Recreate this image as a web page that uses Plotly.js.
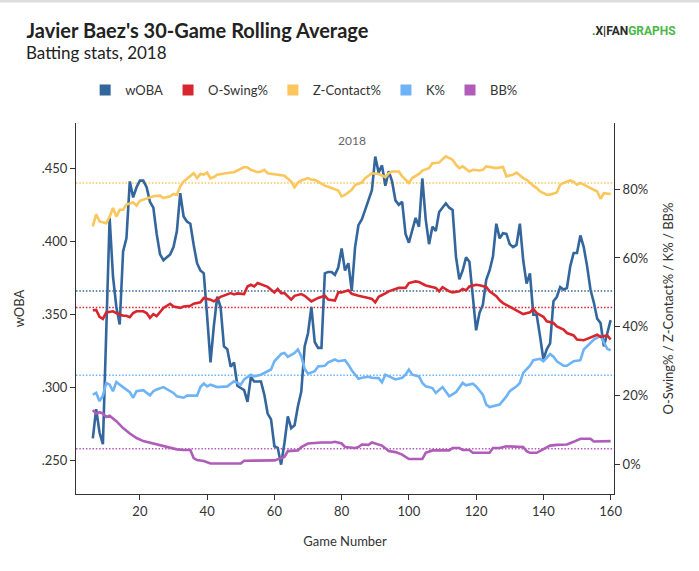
<!DOCTYPE html>
<html>
<head>
<meta charset="utf-8">
<script src="https://cdn.plot.ly/plotly-3.0.1.min.js"></script>
<style>
  html, body { margin: 0; padding: 0; background: #fff; }
  #chart { width: 699px; height: 571px; }
</style>
</head>
<body>
<div id="chart"></div>
<script>
// ---------- data ----------
const seriesNames = ["wOBA", "O-Swing%", "Z-Contact%", "K%", "BB%"];
const seriesColors = ["#33669c", "#d8262f", "#fbc65b", "#6fb3f7", "#b05cb9"];

const wobaGames = [6,7,8,9,11,12,13,14,15,16,17,18,19,20,21,22,23,24,25,26,27,28,29,30,31,32,33,34,35,36,37,38,39,40,41,42,43,44,45,46,47,48,49,50,51,52,53,54,55,56,57,58,59,60,61,62,63,64,65,66,67,68,69,70,71,72,73,74,75,76,77,78,79,80,81,82,83,84,85,86,87,88,89,90,91,92,93,94,95,96,97,98,99,100,101,102,103,104,105,106,107,108,109,110,111,112,113,114,115,116,117,118,119,120,121,122,123,124,125,126,127,128,129,130,131,132,133,134,135,136,137,138,139,140,141,142,143,144,145,146,147,148,149,150,151,152,153,154,155,156,157,158,159,160];
const wobaValues = [.265,.285,.269,.261,.416,.376,.355,.343,.393,.402,.441,.430,.437,.4415,.4415,.437,.427,.423,.405,.391,.387,.389,.391,.396,.407,.433,.417,.4135,.412,.3975,.385,.380,.378,.3485,.317,.342,.362,.355,.328,.326,.314,.317,.301,.2995,.298,.290,.307,.304,.304,.304,.295,.282,.278,.2596,.2585,.247,.262,.280,.272,.274,.287,.297,.328,.337,.355,.331,.327,.327,.378,.379,.379,.377,.382,.395,.380,.385,.366,.396,.411,.415,.4215,.428,.435,.458,.447,.452,.438,.448,.441,.428,.425,.427,.405,.399,.408,.416,.410,.443,.415,.398,.410,.407,.420,.423,.426,.423,.4215,.3895,.374,.380,.389,.386,.3645,.339,.351,.3565,.3736,.380,.3895,.412,.402,.4055,.405,.398,.396,.3975,.412,.387,.371,.378,.3497,.3497,.335,.319,.326,.330,.359,.362,.3686,.367,.368,.383,.392,.392,.404,.396,.383,.367,.358,.347,.344,.328,.337,.346];

const oswingGames = [6,7,8,9,10,12,13,15,16,17,18,19,21,22,23,24,25,26,27,29,30,32,33,35,36,38,39,41,42,44,45,47,48,49,51,52,53,54,55,57,58,60,61,62,63,65,66,68,69,71,72,73,75,76,78,79,80,82,83,85,88,89,90,91,93,94,96,97,99,100,102,103,105,106,108,109,110,112,113,115,116,117,118,120,121,123,124,126,127,128,130,131,133,134,136,137,138,140,141,143,144,146,147,149,150,152,153,155,156,157,159,160];
const oswingValues = [.448,.449,.429,.423,.442,.445,.440,.432,.432,.428,.440,.445,.445,.440,.426,.437,.431,.443,.455,.467,.459,.455,.459,.461,.467,.471,.484,.479,.474,.487,.490,.498,.494,.497,.495,.517,.522,.517,.527,.520,.516,.500,.510,.498,.498,.479,.490,.495,.490,.474,.479,.484,.490,.479,.476,.500,.500,.506,.496,.490,.484,.481,.471,.487,.497,.503,.510,.513,.513,.527,.532,.530,.520,.517,.513,.503,.515,.503,.500,.503,.510,.506,.517,.522,.521,.516,.503,.489,.477,.469,.459,.452,.442,.437,.442,.452,.440,.429,.416,.411,.401,.392,.382,.375,.363,.361,.365,.372,.377,.371,.375,.363];

const zcontactGames = [6,7,8,10,11,12,13,14,15,16,18,19,20,21,22,24,26,27,29,30,31,32,33,35,36,37,38,39,40,41,42,43,45,47,48,50,51,52,53,55,56,57,58,60,61,63,65,66,67,68,70,71,72,74,75,77,79,80,81,83,84,86,87,89,90,91,93,94,95,97,98,100,101,102,103,104,106,107,109,110,111,113,114,115,116,118,119,121,122,123,125,126,128,129,131,132,134,135,137,138,139,141,142,144,145,146,148,149,150,151,153,154,156,157,158,160];
const zcontactValues = [.692,.727,.706,.701,.720,.745,.720,.740,.740,.755,.761,.752,.766,.769,.772,.779,.781,.774,.779,.786,.783,.808,.822,.837,.846,.832,.844,.842,.848,.831,.835,.842,.846,.848,.849,.858,.864,.863,.856,.849,.851,.856,.846,.843,.841,.839,.822,.805,.819,.825,.832,.827,.827,.815,.810,.803,.796,.779,.783,.798,.812,.819,.832,.846,.846,.844,.835,.846,.851,.851,.837,.818,.832,.837,.844,.854,.861,.875,.877,.887,.895,.885,.871,.861,.866,.851,.856,.854,.856,.866,.864,.861,.864,.837,.842,.848,.832,.827,.810,.803,.793,.784,.784,.790,.813,.818,.825,.821,.813,.818,.808,.803,.793,.772,.788,.786];

const kGames = [6,7,8,9,10,11,12,13,14,16,17,18,19,21,22,23,24,25,27,28,30,31,33,34,36,37,38,39,40,41,43,45,46,48,49,50,51,53,54,56,58,59,60,62,63,64,66,67,68,69,70,72,73,75,76,78,79,81,82,83,85,86,88,89,91,92,93,95,96,98,99,100,101,103,104,105,107,108,109,110,112,113,114,116,117,119,120,122,123,124,126,127,129,130,132,133,134,136,137,139,140,142,143,144,146,147,149,151,152,154,155,157,158,159,160];
const kValues = [.203,.208,.184,.200,.237,.232,.213,.240,.232,.218,.210,.194,.213,.216,.208,.201,.213,.218,.225,.220,.208,.198,.194,.200,.200,.200,.225,.235,.227,.232,.225,.225,.227,.242,.237,.232,.247,.261,.256,.261,.271,.276,.300,.321,.324,.313,.324,.334,.314,.278,.264,.271,.285,.287,.297,.305,.300,.303,.290,.274,.249,.252,.255,.252,.251,.239,.261,.252,.247,.252,.261,.276,.261,.256,.237,.227,.222,.208,.218,.225,.198,.203,.210,.237,.230,.235,.227,.203,.174,.167,.171,.174,.198,.213,.227,.237,.266,.287,.303,.307,.300,.321,.313,.300,.287,.287,.300,.303,.334,.353,.363,.374,.353,.336,.332];

const bbGames = [6,7,8,9,10,11,13,15,17,19,21,24,27,29,31,33,35,36,37,39,41,44,50,51,56,60,63,64,67,68,70,74,77,78,80,81,84,85,86,88,89,91,92,94,96,98,99,100,104,105,107,112,113,115,116,118,119,124,125,127,129,134,135,136,138,140,142,144,147,149,151,154,155,160];
const bbValues = [.158,.148,.152,.148,.138,.142,.126,.106,.090,.077,.068,.061,.055,.050,.044,.042,.042,.019,.013,.010,.003,.003,.003,.011,.011,.012,.022,.039,.041,.051,.061,.064,.064,.066,.061,.051,.048,.051,.058,.057,.064,.057,.055,.039,.036,.029,.022,.016,.016,.034,.041,.041,.048,.048,.042,.042,.034,.034,.048,.048,.053,.051,.039,.034,.034,.044,.055,.057,.058,.066,.075,.075,.067,.068];

// season averages (dotted reference lines): wOBA, O-Swing%, Z-Contact%, K%, BB%
const seasonAverages = [0.366, 0.456, 0.8175, 0.259, 0.046];

const wobaTickVals = [0.25, 0.30, 0.35, 0.40, 0.45];
const wobaTickText = [".250", ".300", ".350", ".400", ".450"];
const pctTickVals = [0, 0.2, 0.4, 0.6, 0.8];
const gameTickVals = [20, 40, 60, 80, 100, 120, 140, 160];

// ---------- traces ----------
const xs = [wobaGames, oswingGames, zcontactGames, kGames, bbGames];
const ys = [wobaValues, oswingValues, zcontactValues, kValues, bbValues];
const axesY = ["y", "y2", "y2", "y2", "y2"];

const traces = [];
// draw order: put wOBA on top
const order = [4, 3, 2, 1, 0];
order.forEach(i => {
  traces.push({
    type: "scatter", mode: "lines",
    x: xs[i], y: ys[i], yaxis: axesY[i],
    line: { color: seriesColors[i], width: 2.6 },
    name: seriesNames[i], showlegend: false, hoverinfo: "skip"
  });
});
// legend entries (square swatches)
seriesNames.forEach((n, i) => {
  traces.push({
    type: "scatter", mode: "markers", x: [null], y: [null],
    marker: { symbol: "square", size: 11, color: seriesColors[i] },
    name: n, showlegend: true, hoverinfo: "skip"
  });
});

const shapes = seasonAverages.map((v, i) => ({
  type: "line", xref: "paper", x0: 0, x1: 1,
  yref: axesY[i], y0: v, y1: v,
  line: { color: seriesColors[i], width: 1.5, dash: "1.5px,1.8px" },
  layer: "below"
}));
// thin grey band at the very top of the image
shapes.push({
  type: "line", xref: "paper", yref: "paper",
  x0: -0.2, x1: 1.2, y0: 1.329, y1: 1.329,
  line: { color: "#dddddd", width: 3 }
});

const fontFam = "Lato, 'Open Sans', sans-serif";

const layout = {
  width: 699, height: 571,
  margin: { l: 76, r: 85, t: 123, b: 77, pad: 0 },
  paper_bgcolor: "#ffffff", plot_bgcolor: "#ffffff",
  font: { family: fontFam, size: 13, color: "#333" },
  showlegend: true,
  title: {
    text: "<b>Javier Baez's 30-Game Rolling Average</b>",
    font: { family: fontFam, size: 20, color: "#222" },
    xref: "container", yref: "container",
    x: 0.038, xanchor: "left", y: 0.946, yanchor: "middle"
  },
  legend: {
    orientation: "h", xref: "paper", yref: "paper",
    x: 0.017, xanchor: "left", y: 1.089, yanchor: "middle",
    font: { family: fontFam, size: 13, color: "#333" },
    itemwidth: 30, bgcolor: "rgba(0,0,0,0)"
  },
  xaxis: {
    range: [1, 161], tickvals: gameTickVals,
    showline: true, linecolor: "#333", linewidth: 1,
    ticks: "outside", ticklen: 5, tickcolor: "#333",
    showgrid: false, zeroline: false,
    tickfont: { family: fontFam, size: 13, color: "#333" },
    title: { text: "Game Number", font: { family: fontFam, size: 13, color: "#333" }, standoff: 19 }
  },
  yaxis: {
    range: [0.2269, 0.481], tickvals: wobaTickVals, ticktext: wobaTickText,
    showline: true, linecolor: "#333", linewidth: 1,
    ticks: "outside", ticklen: 5, tickcolor: "#333",
    showgrid: false, zeroline: false,
    tickfont: { family: fontFam, size: 13, color: "#333" },
    title: { text: "wOBA", font: { family: fontFam, size: 13, color: "#333" }, standoff: 14 }
  },
  yaxis2: {
    overlaying: "y", side: "right",
    range: [-0.0856, 0.992], tickvals: pctTickVals, tickformat: ".0%",
    showline: true, linecolor: "#333", linewidth: 1,
    ticks: "outside", ticklen: 5, tickcolor: "#333",
    showgrid: false, zeroline: false,
    tickfont: { family: fontFam, size: 13, color: "#333" },
    title: { text: "O-Swing% / Z-Contact% / K% / BB%", font: { family: fontFam, size: 13, color: "#333" }, standoff: 16 }
  },
  shapes: shapes,
  annotations: [
    {
      text: "Batting stats, 2018", xref: "paper", yref: "paper",
      x: -0.0975, xanchor: "left", y: 1.1887, yanchor: "middle",
      showarrow: false, font: { family: fontFam, size: 17, color: "#222" }
    },
    {
      text: "2018", xref: "paper", yref: "paper",
      x: 0.5125, xanchor: "center", y: 0.952, yanchor: "middle",
      showarrow: false, font: { family: fontFam, size: 12, color: "#666" }
    },
    {
      text: "<b><span style='color:#4a8a2a'>.</span><span style='color:#2b2b2b'>X|FAN</span><span style='color:#4cb848'>GRAPHS</span></b>",
      xref: "paper", yref: "paper",
      x: 1.119, xanchor: "right", y: 1.248, yanchor: "middle",
      showarrow: false, font: { family: "Roboto, sans-serif", size: 12 }
    }
  ]
};

Plotly.newPlot("chart", traces, layout, { displayModeBar: false, staticPlot: true });
</script>
</body>
</html>
